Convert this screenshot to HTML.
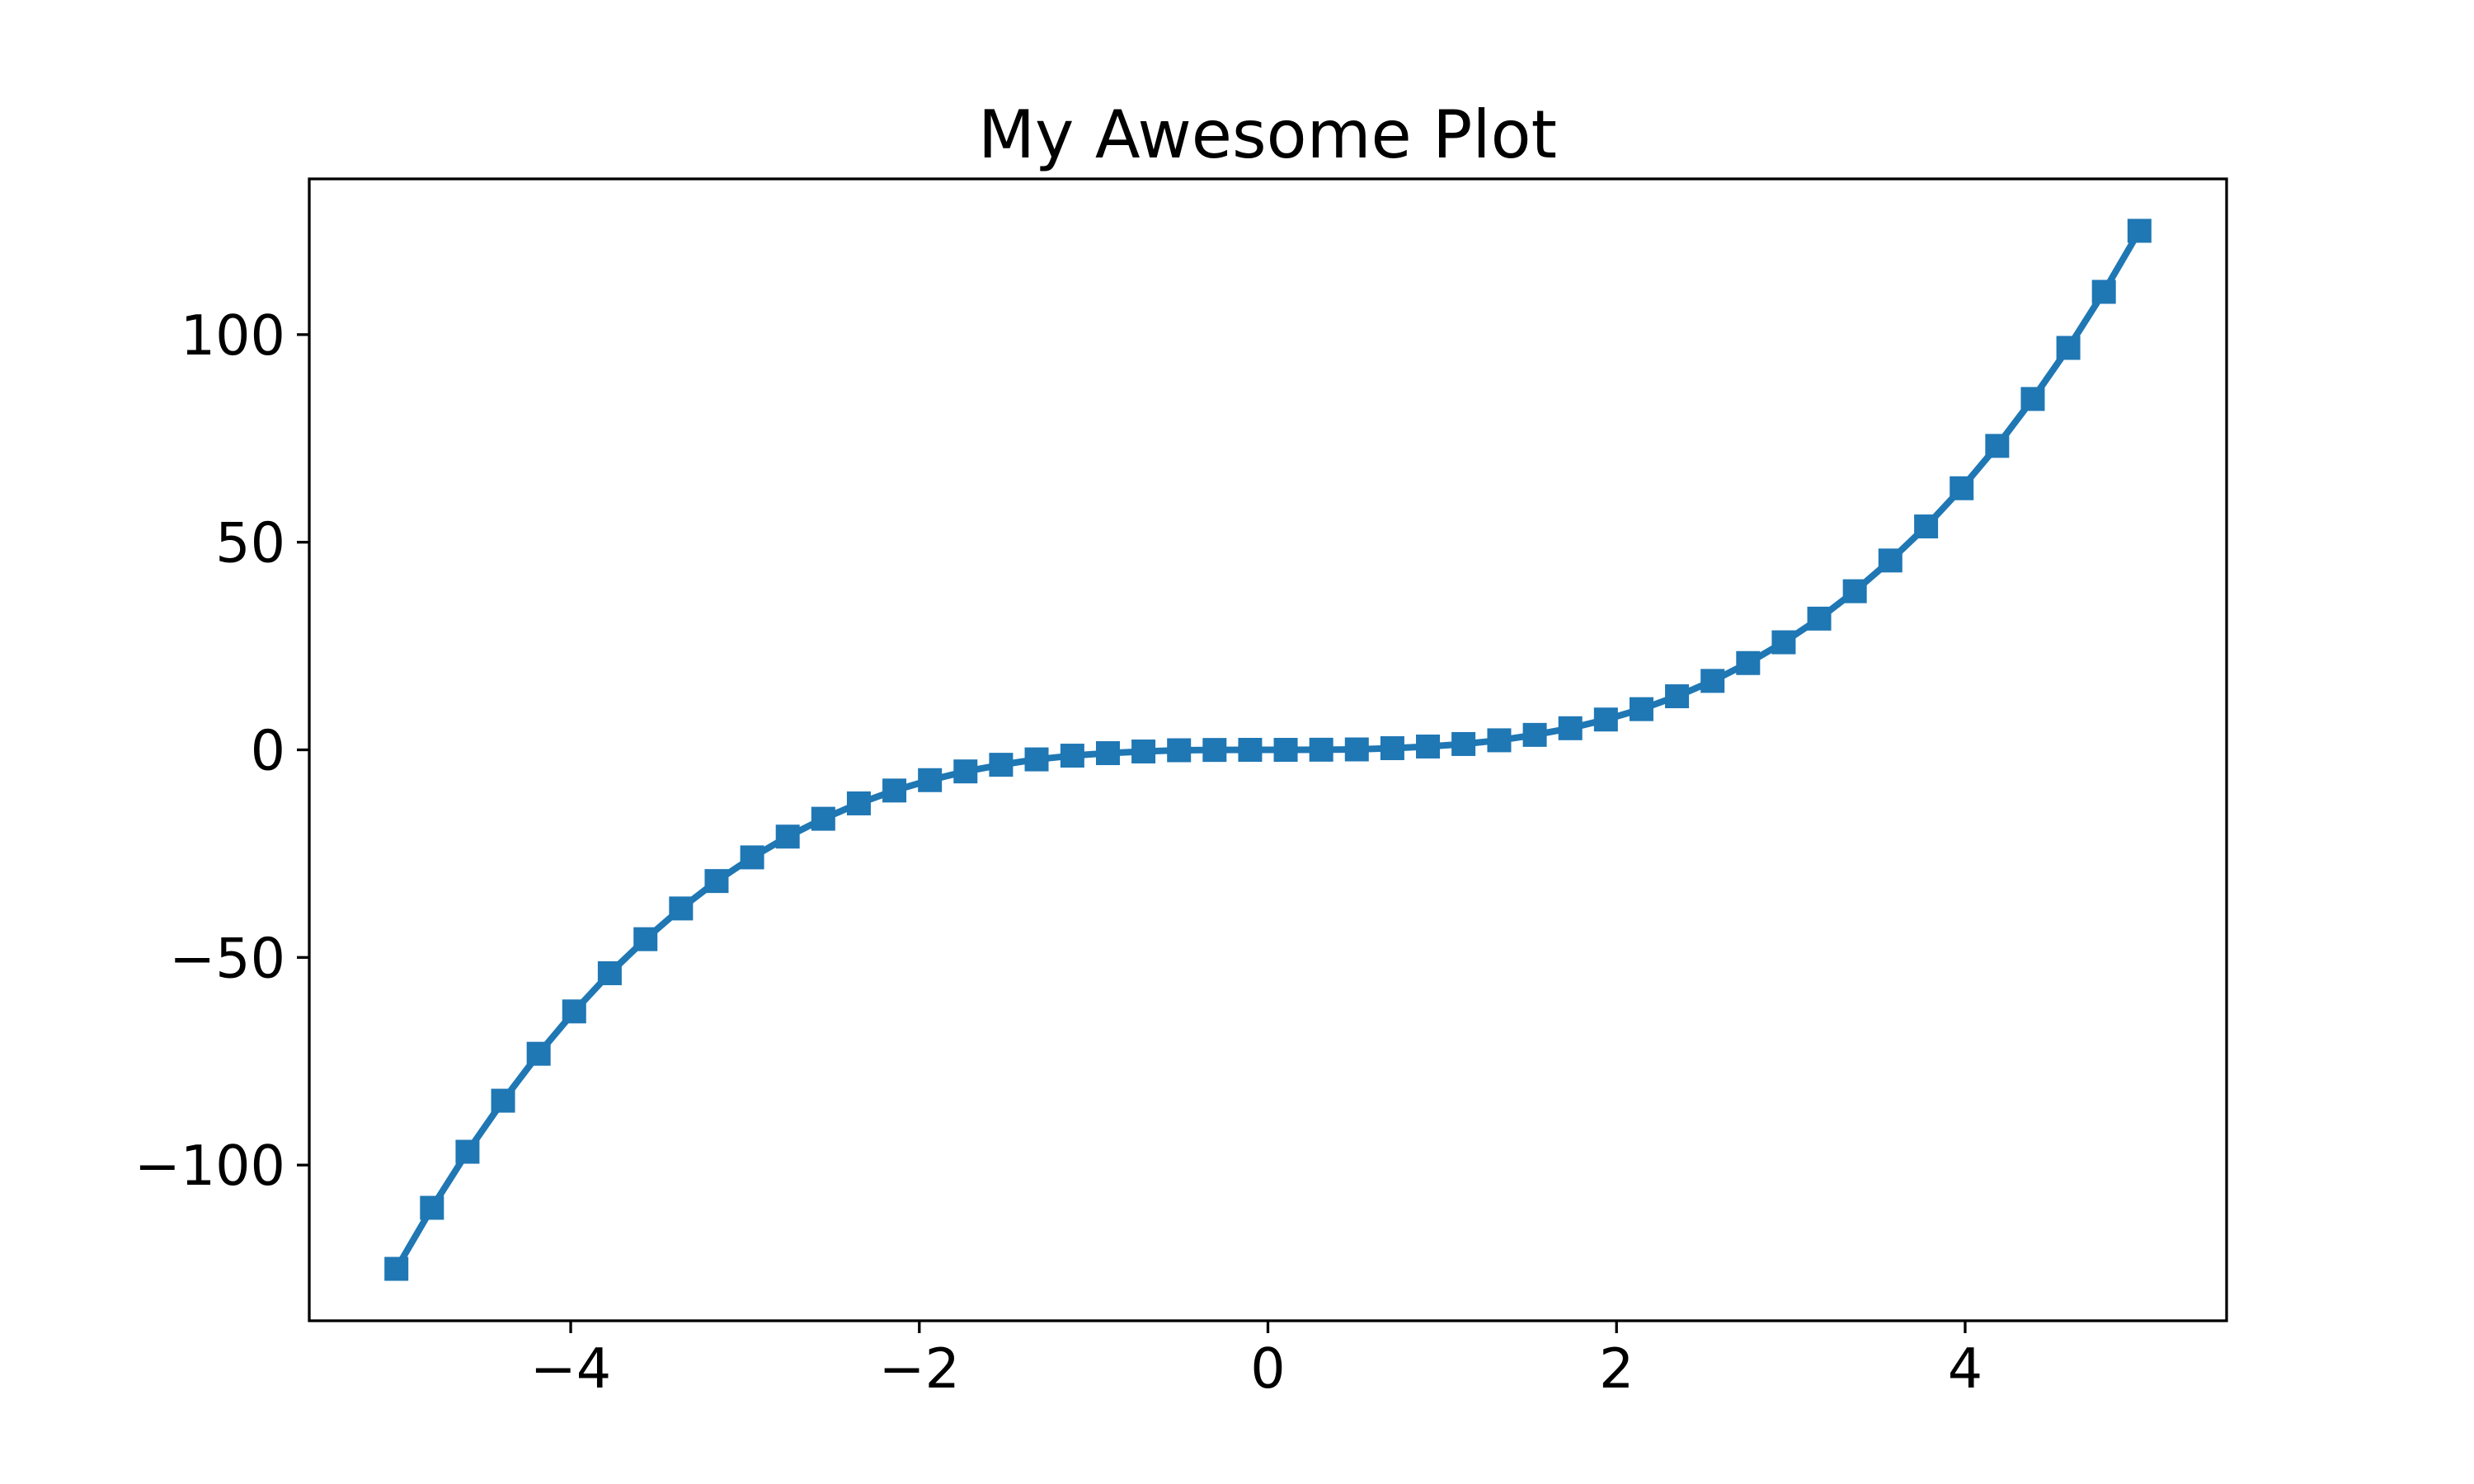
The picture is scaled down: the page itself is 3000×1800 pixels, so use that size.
<!DOCTYPE html>
<html><head><meta charset="utf-8"><style>
html,body{margin:0;padding:0;background:#fff;}
svg{display:block;}
text{font-family:"DejaVu Sans","Liberation Sans",sans-serif;fill:#000;}
</style></head><body>
<svg id="chart" width="3000" height="1800" viewBox="0 0 3000 1800" xmlns="http://www.w3.org/2000/svg">
<rect width="3000" height="1800" fill="#fff"/>
<text x="1537" y="191" font-size="80" text-anchor="middle">My Awesome Plot</text>
<g id="plot"></g>
<rect x="375" y="217" width="2325" height="1385" fill="none" stroke="#000" stroke-width="3.3"/>
<g id="axes"></g>
</svg>
<script>
const xValues = [-5,-4.796,-4.592,-4.388,-4.184,-3.980,-3.776,-3.571,-3.367,-3.163,-2.959,-2.755,-2.551,-2.347,-2.143,-1.939,-1.735,-1.531,-1.327,-1.122,-0.918,-0.714,-0.510,-0.306,-0.102,0.102,0.306,0.510,0.714,0.918,1.122,1.327,1.531,1.735,1.939,2.143,2.347,2.551,2.755,2.959,3.163,3.367,3.571,3.776,3.980,4.184,4.388,4.592,4.796,5];
const yValues = [-125,-110.3,-96.8,-84.5,-73.2,-63.0,-53.8,-45.6,-38.2,-31.6,-25.9,-20.9,-16.6,-12.9,-9.8,-7.3,-5.2,-3.6,-2.3,-1.4,-0.8,-0.4,-0.1,-0.03,0,0,0.03,0.1,0.4,0.8,1.4,2.3,3.6,5.2,7.3,9.8,12.9,16.6,20.9,25.9,31.6,38.2,45.6,53.8,63.0,73.2,84.5,96.8,110.3,125];
const xTicks = [-4,-2,0,2,4];
const xTickLabels = ["\u22124","\u22122","0","2","4"];
const yTicks = [-100,-50,0,50,100];
const yTickLabels = ["\u2212100","\u221250","0","50","100"];

const NS = "http://www.w3.org/2000/svg";
const L=375,R=2700,T=217,B=1602;
const xMin=-5.5,xMax=5.5,yMin=-137.5,yMax=137.5;
const sx = v => L + (v - xMin) / (xMax - xMin) * (R - L);
const sy = v => B - (v - yMin) / (yMax - yMin) * (B - T);
function mk(tag, attrs, parent){const e=document.createElementNS(NS,tag);for(const k in attrs)e.setAttribute(k,attrs[k]);parent.appendChild(e);return e;}
const plot=document.getElementById('plot'), axes=document.getElementById('axes');

const line = mk('polyline',{points:xValues.map((x,i)=>sx(x)+','+sy(yValues[i])).join(' '),fill:'none',stroke:'#1f77b4','stroke-width':8,'stroke-linejoin':'round'},plot);


xValues.forEach((x,i)=>{
  const m = mk('rect',{x:sx(x)-14.5,y:sy(yValues[i])-14.5,width:29,height:29,fill:'#1f77b4'},plot);
  
  
});
xTicks.forEach((t,i)=>{
  const tk = mk('line',{x1:sx(t),x2:sx(t),y1:B,y2:B+15,stroke:'#000','stroke-width':3.3},axes);
  
  
  const lb = mk('text',{x:sx(t),y:1683,'font-size':66.7,'text-anchor':'middle'},axes);
  lb.textContent = xTickLabels[i];
  
  
});
yTicks.forEach((t,i)=>{
  const tk = mk('line',{x1:L-15,x2:L,y1:sy(t),y2:sy(t),stroke:'#000','stroke-width':3.3},axes);
  
  
  const lb = mk('text',{x:346,y:sy(t)+24,'font-size':66.7,'text-anchor':'end'},axes);
  lb.textContent = yTickLabels[i];
  
  
});
</script>
</body></html>
